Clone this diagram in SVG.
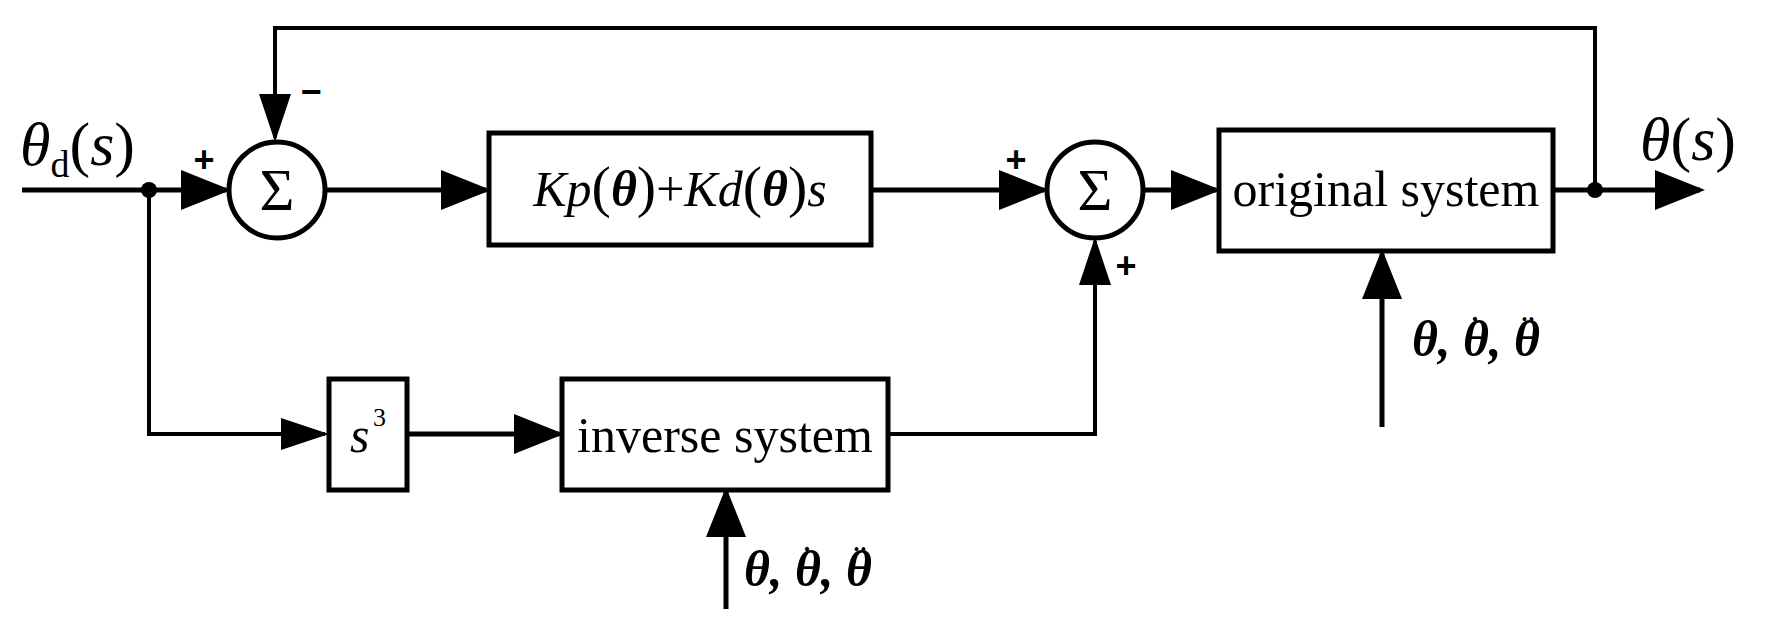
<svg xmlns="http://www.w3.org/2000/svg" width="1773" height="641" viewBox="0 0 1773 641">
<style>
.b{fill:#fff;stroke:#000;stroke-width:5}
.l{fill:none;stroke:#000;stroke-width:5}
.t{font-family:"Liberation Serif",serif;font-size:50px;fill:#000}
.i{font-style:italic}
.bi{font-style:italic;font-weight:bold}
.s{font-family:"Liberation Sans",sans-serif;font-size:36px;font-weight:bold}
</style>
<defs>
<marker id="a" markerWidth="10" markerHeight="8" refX="9" refY="4" orient="auto" markerUnits="strokeWidth"><path d="M0,0L10,4L0,8z"/></marker>
<marker id="as" markerWidth="12" markerHeight="8" refX="11" refY="4" orient="auto" markerUnits="strokeWidth"><path d="M0,0L12,4L0,8z"/></marker>
</defs>
<g id="connectors">
<path class="l" d="M22,190H226" marker-end="url(#a)"/>
<path class="l" d="M327,190H486" marker-end="url(#a)"/>
<path class="l" d="M872,190H1044" marker-end="url(#a)"/>
<path class="l" d="M1145,190H1216" marker-end="url(#a)"/>
<path class="l" d="M1554,190H1700" marker-end="url(#a)"/>
<path class="l" style="stroke-width:4" d="M1595,190V28H275V138" marker-end="url(#as)"/>
<path class="l" style="stroke-width:4" d="M149,190V434H325" marker-end="url(#as)"/>
<path class="l" d="M408,434H559" marker-end="url(#a)"/>
<path class="l" style="stroke-width:4" d="M889,434H1095V241" marker-end="url(#as)"/>
<path class="l" d="M1382,427V254" marker-end="url(#a)"/>
<path class="l" d="M726,609V492" marker-end="url(#a)"/>
<circle cx="149" cy="190" r="8"/>
<circle cx="1595" cy="190" r="8"/>
</g>
<g id="sum1"><circle class="b" cx="277" cy="190" r="48"/><text class="t" x="277" y="210" text-anchor="middle" style="font-size:60px">Σ</text></g>
<g id="sum2"><circle class="b" cx="1095" cy="190" r="48"/><text class="t" x="1095" y="210" text-anchor="middle" style="font-size:60px">Σ</text></g>
<g id="pd"><rect class="b" x="489" y="133" width="382" height="112"/>
<text class="t" x="680" y="206" text-anchor="middle"><tspan class="i">Kp</tspan><tspan style="font-size:58px">(</tspan><tspan class="bi">θ</tspan><tspan style="font-size:58px">)</tspan>+<tspan class="i">Kd</tspan><tspan style="font-size:58px">(</tspan><tspan class="bi">θ</tspan><tspan style="font-size:58px">)</tspan><tspan class="i">s</tspan></text></g>
<g id="orig"><rect class="b" x="1219" y="130" width="334" height="121"/><text class="t" x="1386" y="206" text-anchor="middle">original system</text></g>
<g id="s3"><rect class="b" x="329" y="379" width="78" height="111"/><text class="t i" x="350" y="452">s</text><text class="t" x="373" y="426" style="font-size:26px">3</text></g>
<g id="inv"><rect class="b" x="562" y="379" width="326" height="111"/><text class="t" x="725" y="452" text-anchor="middle">inverse system</text></g>
<g id="labels">
<text class="t" x="20" y="165" style="font-size:62px"><tspan class="i">θ</tspan><tspan style="font-size:38px" dy="12">d</tspan><tspan dy="-12">(</tspan><tspan class="i">s</tspan>)</text>
<text class="t" x="1640" y="160" style="font-size:62px"><tspan class="i">θ</tspan>(<tspan class="i">s</tspan>)</text>
<text class="t bi" x="1412" y="356">θ,  θ,  θ</text>
<text class="t" x="1475" y="343" style="font-size:40px" text-anchor="middle">˙</text>
<text class="t" x="1528" y="343" style="font-size:40px" text-anchor="middle">¨</text>
<text class="t bi" x="744" y="586">θ,  θ,  θ</text>
<text class="t" x="807" y="573" style="font-size:40px" text-anchor="middle">˙</text>
<text class="t" x="860" y="573" style="font-size:40px" text-anchor="middle">¨</text>
<text class="s" x="204" y="172" text-anchor="middle">+</text>
<text class="s" x="311" y="104" text-anchor="middle">−</text>
<text class="s" x="1016" y="172" text-anchor="middle">+</text>
<text class="s" x="1126" y="278" text-anchor="middle">+</text>
</g>
</svg>
